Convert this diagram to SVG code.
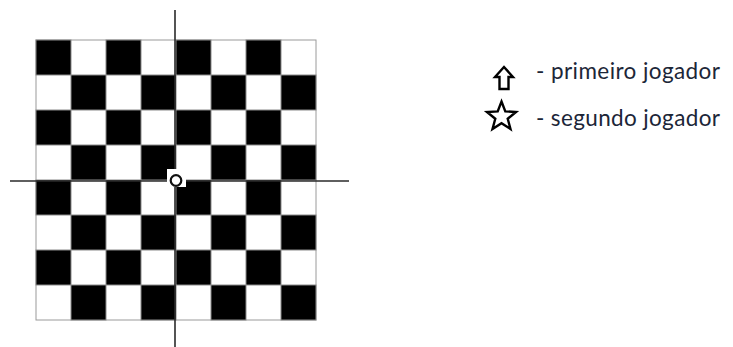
<svg xmlns="http://www.w3.org/2000/svg" width="733" height="347" viewBox="0 0 733 347">
<style>
.b{fill:#000;stroke:#8a8a8a;stroke-width:1}
.axis{stroke:#2a2a2a;stroke-width:1.6;fill:none}
.icon{fill:#fff;stroke:#000;stroke-width:2.4;stroke-linejoin:miter}
.lbl{font-family:Lato,"Open Sans",sans-serif;font-size:22.5px;fill:#1c2638}
</style>
<rect width="733" height="347" fill="#fff"/>
<g id="board">
<rect x="36" y="40" width="280" height="280" fill="#fff" stroke="#9a9a9a" stroke-width="1"/>
<g id="squares">
<rect class="b" x="36" y="40" width="35" height="35"/><rect class="b" x="106" y="40" width="35" height="35"/><rect class="b" x="176" y="40" width="35" height="35"/><rect class="b" x="246" y="40" width="35" height="35"/>
<rect class="b" x="71" y="75" width="35" height="35"/><rect class="b" x="141" y="75" width="35" height="35"/><rect class="b" x="211" y="75" width="35" height="35"/><rect class="b" x="281" y="75" width="35" height="35"/>
<rect class="b" x="36" y="110" width="35" height="35"/><rect class="b" x="106" y="110" width="35" height="35"/><rect class="b" x="176" y="110" width="35" height="35"/><rect class="b" x="246" y="110" width="35" height="35"/>
<rect class="b" x="71" y="145" width="35" height="35"/><rect class="b" x="141" y="145" width="35" height="35"/><rect class="b" x="211" y="145" width="35" height="35"/><rect class="b" x="281" y="145" width="35" height="35"/>
<rect class="b" x="36" y="180" width="35" height="35"/><rect class="b" x="106" y="180" width="35" height="35"/><rect class="b" x="176" y="180" width="35" height="35"/><rect class="b" x="246" y="180" width="35" height="35"/>
<rect class="b" x="71" y="215" width="35" height="35"/><rect class="b" x="141" y="215" width="35" height="35"/><rect class="b" x="211" y="215" width="35" height="35"/><rect class="b" x="281" y="215" width="35" height="35"/>
<rect class="b" x="36" y="250" width="35" height="35"/><rect class="b" x="106" y="250" width="35" height="35"/><rect class="b" x="176" y="250" width="35" height="35"/><rect class="b" x="246" y="250" width="35" height="35"/>
<rect class="b" x="71" y="285" width="35" height="35"/><rect class="b" x="141" y="285" width="35" height="35"/><rect class="b" x="211" y="285" width="35" height="35"/><rect class="b" x="281" y="285" width="35" height="35"/>
</g>
</g>
<g id="axes">
<line class="axis" x1="175" y1="10" x2="175" y2="347"/>
<line class="axis" x1="10" y1="181" x2="349" y2="181"/>
</g>
<g id="origin">
<rect x="167" y="169" width="19" height="18" fill="#fff"/>
<circle cx="176" cy="180.5" r="5.3" fill="#fff" stroke="#111" stroke-width="2.2"/>
</g>
<g id="legend-first">
<path class="icon" d="M504 67 L513 77 L508.5 77 L508.5 89 L499.5 89 L499.5 77 L495 77 Z"/>
<text class="lbl" x="536" y="79" textLength="184" lengthAdjust="spacing">- primeiro jogador</text>
</g>
<g id="legend-second">
<path class="icon" d="M501.5 101.5 L505.3 111.4 L516 112 L507.7 118.7 L510.5 129 L501.5 123.2 L492.5 129 L495.3 118.7 L487 112 L497.7 111.4 Z"/>
<text class="lbl" x="536" y="126" textLength="184" lengthAdjust="spacing">- segundo jogador</text>
</g>
</svg>
